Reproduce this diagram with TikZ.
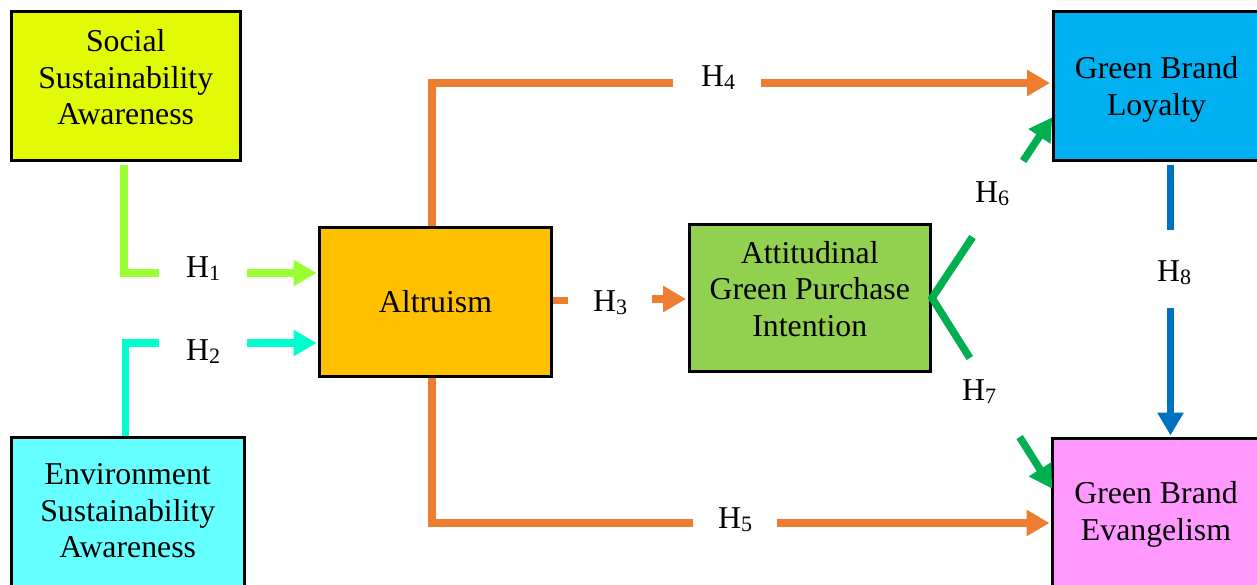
\documentclass[tikz,border=0pt]{standalone}
\usepackage{fontspec}
\setmainfont{Liberation Serif}
\usetikzlibrary{arrows.meta,calc}
\definecolor{cSoc}{HTML}{E1FA05}
\definecolor{cEnv}{HTML}{66FFFF}
\definecolor{cAlt}{HTML}{FFC000}
\definecolor{cAtt}{HTML}{92D050}
\definecolor{cLoy}{HTML}{00B0F0}
\definecolor{cEva}{HTML}{FF99FF}
\definecolor{cH1}{HTML}{99FF33}
\definecolor{cH2}{HTML}{00FFCC}
\definecolor{cOr}{HTML}{ED7D31}
\definecolor{cGr}{HTML}{00B050}
\definecolor{cBl}{HTML}{0070C0}
\newcommand\dn[1]{\rule[-#1]{0pt}{#1}}
\newcommand\hsub[1]{\raisebox{-3.5pt}{\fontsize{22}{22}\selectfont #1}}
\begin{document}
\begin{tikzpicture}[x=1pt,y=-1pt,
  box/.style={draw=black,line width=3pt,align=center,inner sep=0pt,
    font=\fontsize{31.8}{36.7}\selectfont},
  conn/.style={line width=7.5pt},
  tip/.style={-{Triangle[length=23pt,width=25pt]},shorten >=1.5pt},
  hlab/.style={anchor=base west,inner sep=0pt,font=\fontsize{31.8}{36.7}\selectfont}]
\useasboundingbox (0,0) rectangle (1257,584);
\clip (0,0) rectangle (1257,584);
% boxes
\node[box,fill=cSoc,minimum width=229.5pt,minimum height=149pt] (soc) at (125.75,86) {Social\\Sustainability\\Awareness\dn{18pt}};
\node[box,fill=cEnv,minimum width=232.5pt,minimum height=154pt] (env) at (127.75,514.5) {Environment\\Sustainability\\Awareness\dn{8pt}};
\node[box,fill=cAlt,minimum width=232pt,minimum height=149pt] (alt) at (435.5,302) {Altruism};
\node[box,fill=cAtt,minimum width=241.5pt,minimum height=147pt] (att) at (809.75,298) {Attitudinal\\Green Purchase\\Intention\dn{18.6pt}};
\node[box,fill=cLoy,minimum width=207pt,minimum height=148.5pt] (loy) at (1156.5,85.75) {\rule{0pt}{30pt}Green Brand\\Loyalty};
\node[box,fill=cEva,minimum width=207pt,minimum height=152pt] (eva) at (1156,514.5) {Green Brand\\Evangelism\dn{6pt}};
% coordinates
\coordinate (h1a) at (124,165);
\coordinate (h1b) at (124,273);
\coordinate (h1c) at (159,273);
\coordinate (h1d) at (247,273);
\coordinate (h2a) at (125.5,436);
\coordinate (h2b) at (125.5,343);
\coordinate (h2c) at (159,343);
\coordinate (h2d) at (247,343);
\coordinate (h3a) at (568,300.5);
\coordinate (h3b) at (652,299);
\coordinate (hv) at (432,0);
\coordinate (h4b) at (432,83);
\coordinate (h4c) at (673,83);
\coordinate (h4d) at (761,83);
\coordinate (h5b) at (432,523);
\coordinate (h5c) at (693,523);
\coordinate (h5d) at (777,523);
\coordinate (t6) at (1053,116);
\coordinate (t7) at (1053,490);
\coordinate (h8x) at (1170.5,0);
\coordinate (h8a) at (1170.5,165);
\coordinate (h8b) at (1170.5,230);
\coordinate (h8c) at (1170.5,308);
% H1
\draw[conn,draw=cH1] (h1a) -- (h1b) -- (h1c);
\draw[conn,draw=cH1,fill=cH1,tip] (h1d) -- (alt.west |- h1d);
% H2
\draw[conn,draw=cH2] (h2a) -- (h2b) -- (h2c);
\draw[conn,draw=cH2,fill=cH2,tip] (h2d) -- (alt.west |- h2d);
% H3
\draw[conn,draw=cOr] (alt.east |- h3a) -- (h3a);
\draw[conn,draw=cOr,fill=cOr,tip] (h3b) -- (att.west |- h3b);
% H4
\draw[conn,draw=cOr] (alt.north -| hv) -- (h4b) -- (h4c);
\draw[conn,draw=cOr,fill=cOr,tip] (h4d) -- (loy.west |- h4d);
% H5
\draw[conn,draw=cOr] (alt.south -| hv) -- (h5b) -- (h5c);
\draw[conn,draw=cOr,fill=cOr,tip] (h5d) -- (eva.west |- h5d);
% H6 / H7
\draw[conn,draw=cGr] ($(att.east)!0.335!(t6)$) -- (att.east) -- ($(att.east)!0.3125!(t7)$);
\draw[conn,draw=cGr,fill=cGr,tip] ($(att.east)!0.753!(t6)$) -- (t6);
\draw[conn,draw=cGr,fill=cGr,tip] ($(att.east)!0.724!(t7)$) -- (t7);
% H8
\draw[conn,draw=cBl] (h8a) -- (h8b);
\draw[conn,draw=cBl,fill=cBl,tip] (h8c) -- (eva.north -| h8x);
% labels
\node[hlab] (l1) at (186,277) {H\hsub{1}};
\node[hlab] (l2) at (186,360) {H\hsub{2}};
\node[hlab] (l3) at (593,311) {H\hsub{3}};
\node[hlab] (l4) at (701,86) {H\hsub{4}};
\node[hlab] (l5) at (718,528) {H\hsub{5}};
\node[hlab] (l6) at (975,202) {H\hsub{6}};
\node[hlab] (l7) at (962,400) {H\hsub{7}};
\node[hlab] (l8) at (1157,281) {H\hsub{8}};
\end{tikzpicture}
\end{document}
